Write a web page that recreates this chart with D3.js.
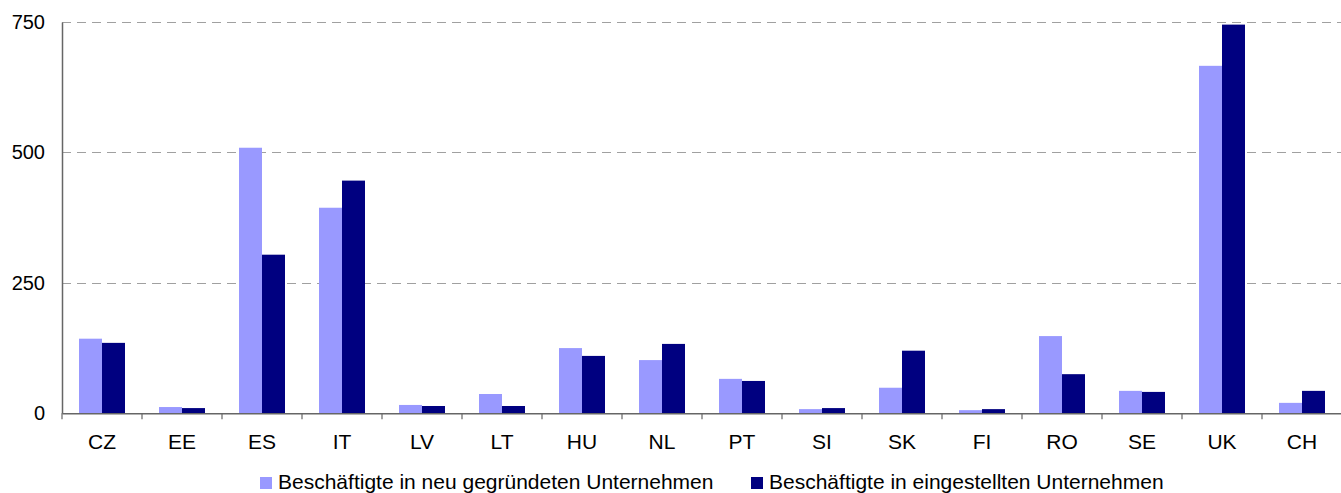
<!DOCTYPE html>
<html>
<head>
<meta charset="utf-8">
<script src="https://cdn.jsdelivr.net/npm/d3@7"></script>
<style>
  body { margin: 0; background: #fff; }
  svg { display: block; font-family: "Liberation Sans", Arial, sans-serif; }
</style>
</head>
<body>
<div id="chart"></div>
<script>
// data
var countries = ["CZ", "EE", "ES", "IT", "LV", "LT", "HU", "NL", "PT", "SI", "SK", "FI", "RO", "SE", "UK", "CH"];
var neuGegruendet = [143, 12, 509, 394, 16, 37, 125, 102, 66, 8, 49, 6, 148, 43, 666, 20];
var eingestellt = [135, 10, 304, 446, 14, 14, 110, 133, 62, 10, 120, 8, 75, 41, 745, 43];
var seriesNames = ["Beschäftigte in neu gegründeten Unternehmen", "Beschäftigte in eingestellten Unternehmen"];
var seriesColors = ["#9999FF", "#000080"];
var yTicks = [0, 250, 500, 750];

function draw() {
    var width = 1341, height = 493;
    var margin = {top: 22, right: -1, bottom: 80, left: 62};

    var svg = d3.select("#chart").append("svg")
        .attr("width", width)
        .attr("height", height);

    var x = d3.scaleBand()
        .domain(countries)
        .range([margin.left, width - margin.right])
        .padding(0);

    var xInner = d3.scaleBand()
        .domain([0, 1])
        .range([0, x.bandwidth()])
        .paddingInner(0)
        .paddingOuter(0.739);

    var y = d3.scaleLinear()
        .domain([0, 750])
        .range([height - margin.bottom + 0.3, margin.top]);

    // dashed grid lines
    svg.append("g")
        .selectAll("line")
        .data(yTicks.filter(d => d > 0))
        .enter()
        .append("line")
        .attr("x1", margin.left)
        .attr("x2", width)
        .attr("y1", d => Math.round(y(d)) + 0.5)
        .attr("y2", d => Math.round(y(d)) + 0.5)
        .attr("stroke", "#a0a0a0")
        .attr("stroke-width", 1)
        .attr("stroke-dasharray", "9,6");

    // bars
    var rows = countries.map((c, i) => ({c: c, v: [neuGegruendet[i], eingestellt[i]]}));

    svg.append("g")
        .selectAll("g")
        .data(rows)
        .enter()
        .append("g")
        .attr("transform", d => `translate(${x(d.c)},0)`)
        .selectAll("rect")
        .data(d => d.v.map((v, k) => ({k: k, v: v})))
        .enter()
        .append("rect")
        .attr("x", d => xInner(d.k))
        .attr("width", xInner.bandwidth())
        .attr("y", d => y(d.v))
        .attr("height", d => y(0) - y(d.v))
        .attr("fill", d => seriesColors[d.k]);

    // y axis
    var yAxis = svg.append("g")
        .attr("transform", `translate(${margin.left},0)`)
        .call(d3.axisLeft(y).tickValues(yTicks).tickSize(0).tickPadding(17));
    yAxis.select(".domain").attr("stroke", "#666").attr("stroke-width", 1.5);
    yAxis.selectAll("text")
        .attr("font-size", 20)
        .attr("fill", "#000")
        .attr("font-family", "Liberation Sans, Arial, sans-serif");

    // x axis, ticks sit on the band edges
    var xAxis = svg.append("g")
        .attr("transform", `translate(0,${y(0)})`)
        .call(d3.axisBottom(x).tickSize(0).tickPadding(21).tickSizeOuter(0));
    xAxis.select(".domain").attr("stroke", "#666").attr("stroke-width", 1.5);
    xAxis.selectAll("text")
        .attr("font-size", 21)
        .attr("fill", "#000")
        .attr("font-family", "Liberation Sans, Arial, sans-serif");

    xAxis.append("g")
        .selectAll("line")
        .data(countries)
        .enter()
        .append("line")
        .attr("x1", d => x(d))
        .attr("x2", d => x(d))
        .attr("y1", 0)
        .attr("y2", 6)
        .attr("stroke", "#666")
        .attr("stroke-width", 1.2);

    // legend
    var legendX = [260, 751];
    var legend = svg.append("g")
        .selectAll("g")
        .data(seriesNames)
        .enter()
        .append("g")
        .attr("transform", (d, i) => `translate(${legendX[i]},477)`);

    legend.append("rect")
        .attr("width", 12)
        .attr("height", 12)
        .attr("fill", (d, i) => seriesColors[i]);

    legend.append("text")
        .attr("x", 18)
        .attr("y", 12)
        .attr("font-size", 21)
        .attr("fill", "#000")
        .text(d => d);
}

window.onload = draw;
</script>
</body>
</html>
